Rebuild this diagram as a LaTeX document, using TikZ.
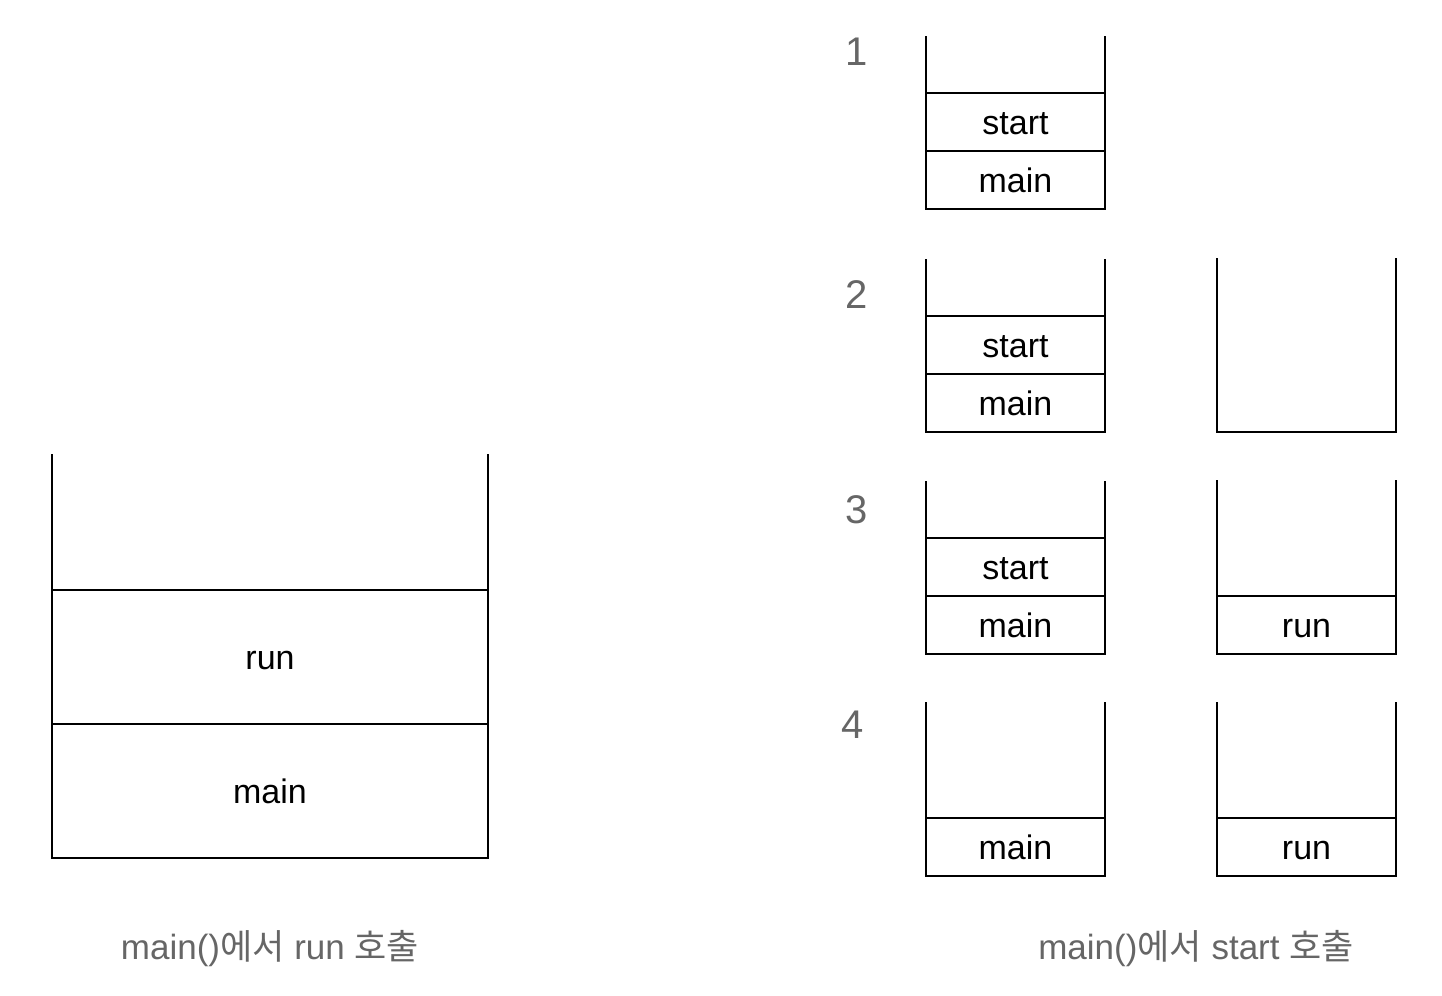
\documentclass[tikz,border=0pt]{standalone}
\usepackage{fontspec}
\setmainfont{Liberation Sans}
\newfontfamily\cjk{Noto Sans CJK KR}
\usetikzlibrary{positioning}
\definecolor{capgray}{HTML}{666666}
\begin{document}
\begin{tikzpicture}[x=0.5pt,y=-0.5pt,
    cell/.style={draw,line width=0.6pt,inner sep=0pt,outer sep=0pt,minimum width=89.5pt,minimum height=29pt,text height=12pt,text depth=0pt,font=\fontsize{17}{20}\selectfont},
    bigcell/.style={cell,minimum width=218pt,minimum height=67pt},
    wall/.style={line width=0.6pt},
    stepnum/.style={text=capgray,font=\fontsize{20}{24}\selectfont},
    caption/.style={text=capgray,font=\fontsize{17.5}{21}\selectfont}]
    \useasboundingbox (0,0) rectangle (1442,996);

    % Pila grande: main() llama a run
    \node[bigcell] (bigmain) at (270,791) {main};
    \node[bigcell,above=0pt of bigmain] (bigrun) {run};
    \draw[wall] (bigrun.north west) -- ++(0,-136);
    \draw[wall] (bigrun.north east) -- ++(0,-136);
    \node[caption] (capleft) at (270,949) {main(){\cjk 에서} run {\cjk 호출}};

    % Paso 1
    \node[stepnum] (n1) at (857,52) {1};
    \node[cell] (a1main) at (1015.5,180) {main};
    \node[cell,above=0pt of a1main] (a1start) {start};
    \draw[wall] (a1start.north west) -- ++(0,-57);
    \draw[wall] (a1start.north east) -- ++(0,-57);

    % Paso 2
    \node[stepnum] (n2) at (857,295) {2};
    \node[cell] (a2main) at (1015.5,403) {main};
    \node[cell,above=0pt of a2main] (a2start) {start};
    \draw[wall] (a2start.north west) -- ++(0,-57);
    \draw[wall] (a2start.north east) -- ++(0,-57);
    \draw[wall] (1217,258) -- (1217,432) -- (1396,432) -- (1396,258);

    % Paso 3
    \node[stepnum] (n3) at (857,510) {3};
    \node[cell] (a3main) at (1015.5,625) {main};
    \node[cell,above=0pt of a3main] (a3start) {start};
    \draw[wall] (a3start.north west) -- ++(0,-57);
    \draw[wall] (a3start.north east) -- ++(0,-57);
    \node[cell] (b3run) at (1306.5,625) {run};
    \draw[wall] (b3run.north west) -- ++(0,-116);
    \draw[wall] (b3run.north east) -- ++(0,-116);

    % Paso 4
    \node[stepnum] (n4) at (853,725) {4};
    \node[cell] (a4main) at (1015.5,847) {main};
    \draw[wall] (a4main.north west) -- ++(0,-116);
    \draw[wall] (a4main.north east) -- ++(0,-116);
    \node[cell] (b4run) at (1306.5,847) {run};
    \draw[wall] (b4run.north west) -- ++(0,-116);
    \draw[wall] (b4run.north east) -- ++(0,-116);

    \node[caption] (capright) at (1196,949) {main(){\cjk 에서} start {\cjk 호출}};
\end{tikzpicture}
\end{document}
